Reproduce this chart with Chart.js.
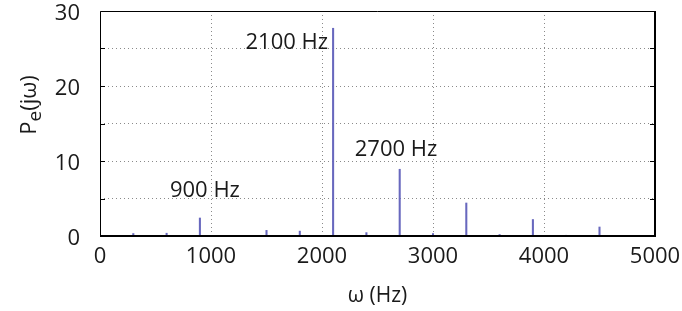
<!DOCTYPE html>
<html>
<head>
<meta charset="utf-8">
<script src="https://cdn.jsdelivr.net/npm/chart.js@4/dist/chart.umd.min.js"></script>
<style>
  html, body { margin: 0; padding: 0; background: #fff; }
  #wrap { width: 682px; height: 311px; }
</style>
</head>
<body>
<div id="wrap"><canvas id="spectrum" width="682" height="311"></canvas></div>
<script>
// Spectrum of P_e(jw): spikes at multiples of 300 Hz
const freqs = [300, 600, 900, 1500, 1800, 2100, 2400, 2700, 3000, 3300, 3600, 3900, 4200, 4500, 4800];
const power = [0.33, 0.37, 2.4, 0.75, 0.65, 27.7, 0.45, 8.9, 0.33, 4.4, 0.2, 2.2, 0.1, 1.2, 0.06];
const xTicks = [0, 1000, 2000, 3000, 4000, 5000];
const yTicks = [0, 10, 20, 30];
const notes = [
    { text: '2100 Hz', x: 2055, y: 25.8, align: 'right' },
    { text: '2700 Hz', x: 2295, y: 11.5, align: 'left' },
    { text: '900 Hz', x: 630, y: 6.1, align: 'left' }
];

const FONT = '"Open Sans", "DejaVu Sans", sans-serif';
const ink = '#1a1a1a';

// box, inward tick marks, annotations, y title with subscript
const decor = {
    id: 'decor',
    afterDatasetsDraw(chart) {
        const { ctx, chartArea: a, scales } = chart;
        ctx.save();
        ctx.strokeStyle = '#000';
        // inward ticks
        ctx.lineWidth = 1;
        for (let v = 5; v < 30; v += 5) {
            const y = Math.round(scales.y.getPixelForValue(v)) + 0.5;
            ctx.beginPath();
            ctx.moveTo(a.left, y); ctx.lineTo(a.left + 5, y);
            ctx.moveTo(a.right, y); ctx.lineTo(a.right - 5, y);
            ctx.stroke();
        }
        // box
        ctx.lineWidth = 1;
        ctx.beginPath();
        ctx.moveTo(a.left + 0.5, a.bottom); ctx.lineTo(a.left + 0.5, a.top + 0.5); ctx.lineTo(a.right, a.top + 0.5);
        ctx.stroke();
        ctx.lineWidth = 2;
        ctx.beginPath();
        ctx.moveTo(a.left, a.bottom); ctx.lineTo(a.right, a.bottom); ctx.lineTo(a.right, a.top);
        ctx.stroke();

        // annotations
        ctx.fillStyle = ink;
        ctx.font = '22px ' + FONT;
        ctx.textBaseline = 'middle';
        notes.forEach(n => {
            ctx.textAlign = n.align;
            ctx.fillText(n.text, scales.x.getPixelForValue(n.x), scales.y.getPixelForValue(n.y));
        });

        // y axis title P_e(jw)
        ctx.translate(36, 105);
        ctx.rotate(-Math.PI / 2);
        ctx.textAlign = 'left';
        ctx.textBaseline = 'alphabetic';
        const big = '22px ' + FONT, small = '19px ' + FONT;
        ctx.font = big; const wP = ctx.measureText('P').width; const wR = ctx.measureText('(jω)').width;
        ctx.font = small; const wE = ctx.measureText('e').width;
        let x = -(wP + wE + wR) / 2;
        ctx.font = big; ctx.fillText('P', x, 0); x += wP;
        ctx.font = small; ctx.fillText('e', x, 5); x += wE;
        ctx.font = big; ctx.fillText('(jω)', x, 0);
        ctx.restore();
    }
};

new Chart(document.getElementById('spectrum'), {
    type: 'bar',
    data: {
        datasets: [{
            data: freqs.map((f, i) => ({ x: f, y: power[i] })),
            backgroundColor: 'rgb(104, 104, 190)',
            barThickness: 1.4,
            borderWidth: 0
        }]
    },
    options: {
        responsive: false,
        animation: false,
        devicePixelRatio: 1,
        layout: { padding: { top: 11, right: 27, left: 0, bottom: 0 } },
        plugins: { legend: { display: false }, tooltip: { enabled: false } },
        scales: {
            x: {
                type: 'linear',
                min: 0, max: 5000,
                offset: false,
                afterBuildTicks: s => { s.ticks = xTicks.map(v => ({ value: v })); },
                afterFit: s => { s.height = 75; s.paddingLeft = 0; s.paddingRight = 0; },
                grid: { color: '#8a8a8a', lineWidth: 1, drawTicks: false, offset: false },
                border: { display: false, dash: [1, 3] },
                ticks: { color: ink, font: { family: FONT, size: 22 }, padding: 8, maxRotation: 0, callback: v => String(v) },
                title: { display: true, text: 'ω (Hz)', color: ink, font: { family: FONT, size: 21 }, padding: { top: 0, bottom: 2 } }
            },
            y: {
                min: 0, max: 30,
                ticks: {
                    stepSize: 5,
                    color: ink,
                    font: { family: FONT, size: 22 },
                    padding: 20,
                    labelOffset: 3,
                    callback: v => yTicks.includes(v) ? String(v) : ''
                },
                afterFit: s => { s.width = 100; s.paddingTop = 0; s.paddingBottom = 0; },
                grid: { color: '#8a8a8a', lineWidth: 1, drawTicks: false },
                border: { display: false, dash: [1, 3] }
            }
        }
    },
    plugins: [decor]
});
</script>
</body>
</html>
